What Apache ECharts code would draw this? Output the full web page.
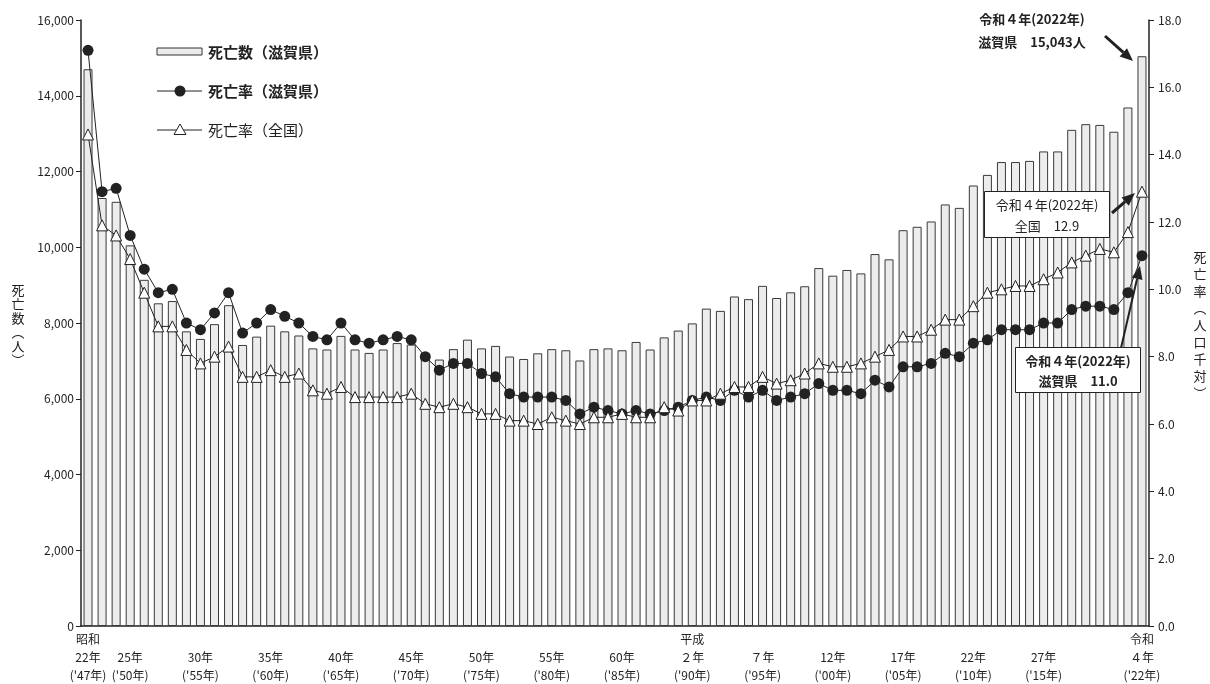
<!DOCTYPE html>
<html>
<head>
<meta charset="utf-8">
<script src="https://cdn.jsdelivr.net/npm/echarts@6/dist/echarts.min.js"></script>
<style>
  html, body { margin: 0; padding: 0; background: #fff; }
  #chart { width: 1210px; height: 684px; }
</style>
</head>
<body>
<div id="chart"></div>
<script>
// 年（昭和22年〜令和4年）
const years = [
  1947, 1948, 1949, 1950, 1951, 1952, 1953, 1954, 1955, 1956,
  1957, 1958, 1959, 1960, 1961, 1962, 1963, 1964, 1965, 1966,
  1967, 1968, 1969, 1970, 1971, 1972, 1973, 1974, 1975, 1976,
  1977, 1978, 1979, 1980, 1981, 1982, 1983, 1984, 1985, 1986,
  1987, 1988, 1989, 1990, 1991, 1992, 1993, 1994, 1995, 1996,
  1997, 1998, 1999, 2000, 2001, 2002, 2003, 2004, 2005, 2006,
  2007, 2008, 2009, 2010, 2011, 2012, 2013, 2014, 2015, 2016,
  2017, 2018, 2019, 2020, 2021, 2022
];
// 死亡数（滋賀県）
const deathsShiga = [
  14700, 11300, 11200, 10050, 9140, 8520, 8580, 7780, 7580, 7970,
  8470, 7420, 7640, 7930, 7780, 7670, 7330, 7300, 7660, 7300,
  7210, 7300, 7470, 7430, 7150, 7035, 7310, 7560, 7330, 7395,
  7115, 7050, 7200, 7310, 7280, 7010, 7310, 7330, 7280, 7500,
  7300, 7620, 7800, 7990, 8380, 8320, 8700, 8630, 8980, 8660,
  8810, 8970, 9450, 9250, 9400, 9310, 9820, 9680, 10450, 10540,
  10680, 11130, 11040, 11630, 11910, 12250, 12250, 12280, 12530, 12530,
  13100, 13250, 13230, 13050, 13690, 15043
];
// 死亡率（滋賀県）
const rateShiga = [
  17.1, 12.9, 13.0, 11.6, 10.6, 9.9, 10.0, 9.0, 8.8, 9.3,
  9.9, 8.7, 9.0, 9.4, 9.2, 9.0, 8.6, 8.5, 9.0, 8.5,
  8.4, 8.5, 8.6, 8.5, 8.0, 7.6, 7.8, 7.8, 7.5, 7.4,
  6.9, 6.8, 6.8, 6.8, 6.7, 6.3, 6.5, 6.4, 6.3, 6.4,
  6.3, 6.4, 6.5, 6.7, 6.8, 6.7, 7.0, 6.8, 7.0, 6.7,
  6.8, 6.9, 7.2, 7.0, 7.0, 6.9, 7.3, 7.1, 7.7, 7.7,
  7.8, 8.1, 8.0, 8.4, 8.5, 8.8, 8.8, 8.8, 9.0, 9.0,
  9.4, 9.5, 9.5, 9.4, 9.9, 11.0
];
// 死亡率（全国）
const rateJapan = [
  14.6, 11.9, 11.6, 10.9, 9.9, 8.9, 8.9, 8.2, 7.8, 8.0,
  8.3, 7.4, 7.4, 7.6, 7.4, 7.5, 7.0, 6.9, 7.1, 6.8,
  6.8, 6.8, 6.8, 6.9, 6.6, 6.5, 6.6, 6.5, 6.3, 6.3,
  6.1, 6.1, 6.0, 6.2, 6.1, 6.0, 6.2, 6.2, 6.3, 6.2,
  6.2, 6.5, 6.4, 6.7, 6.7, 6.9, 7.1, 7.1, 7.4, 7.2,
  7.3, 7.5, 7.8, 7.7, 7.7, 7.8, 8.0, 8.2, 8.6, 8.6,
  8.8, 9.1, 9.1, 9.5, 9.9, 10.0, 10.1, 10.1, 10.3, 10.5,
  10.8, 11.0, 11.2, 11.1, 11.7, 12.9
];
// 横軸の目盛ラベル
const labelYears = [1947, 1950, 1955, 1960, 1965, 1970, 1975, 1980, 1985, 1990, 1995, 2000, 2005, 2010, 2015, 2022];
const labelTexts = [
  "昭和\n22年\n('47年)", "\n25年\n('50年)", "\n30年\n('55年)", "\n35年\n('60年)",
  "\n40年\n('65年)", "\n45年\n('70年)", "\n50年\n('75年)", "\n55年\n('80年)",
  "\n60年\n('85年)", "平成\n２年\n('90年)", "\n７年\n('95年)", "\n12年\n('00年)",
  "\n17年\n('05年)", "\n22年\n('10年)", "\n27年\n('15年)", "令和\n４年\n('22年)"
];

const FONT = '"Noto Sans CJK JP", "Noto Sans CJK SC", sans-serif';
const INK = '#222';

// 矢印（線＋三角）
function arrow(x1, y1, x2, y2, w) {
  const dx = x2 - x1, dy = y2 - y1;
  const len = Math.sqrt(dx * dx + dy * dy);
  const ux = dx / len, uy = dy / len;
  const hl = 13, hw = 5.5;
  const bx = x2 - ux * hl, by = y2 - uy * hl;
  return [
    { type: 'line', z: 100, shape: { x1: x1, y1: y1, x2: bx, y2: by }, style: { stroke: INK, lineWidth: w } },
    { type: 'polygon', z: 100, shape: { points: [[x2, y2], [bx - uy * hw, by + ux * hw], [bx + uy * hw, by - ux * hw]] }, style: { fill: INK } }
  ];
}

function txt(x, y, text, size, weight, align) {
  return {
    type: 'text', z: 101, x: x, y: y,
    style: { text: text, fontFamily: FONT, fontSize: size, fontWeight: weight || 'normal', fill: INK, align: align || 'left', verticalAlign: 'middle' }
  };
}

const chart = echarts.init(document.getElementById('chart'));

const graphics = [
  // 凡例
  { type: 'rect', z: 100, shape: { x: 157, y: 48, width: 45, height: 7 }, style: { fill: '#ececec', stroke: '#333', lineWidth: 1 } },
  txt(208, 52, '死亡数（滋賀県）', 15, 'bold'),
  { type: 'line', z: 100, shape: { x1: 157, y1: 91, x2: 202, y2: 91 }, style: { stroke: INK, lineWidth: 1 } },
  { type: 'circle', z: 100, shape: { cx: 180, cy: 91, r: 5.5 }, style: { fill: INK } },
  txt(208, 91, '死亡率（滋賀県）', 15, 'bold'),
  { type: 'line', z: 100, shape: { x1: 157, y1: 130, x2: 202, y2: 130 }, style: { stroke: INK, lineWidth: 1 } },
  { type: 'polygon', z: 100, shape: { points: [[180, 124], [186, 134.5], [174, 134.5]] }, style: { fill: '#fff', stroke: INK, lineWidth: 1 } },
  txt(208, 130, '死亡率（全国）', 15, 'normal'),

  // 軸タイトル（縦書き）
  { type: 'text', z: 101, x: 18, y: 325, style: { text: '死\n亡\n数\n︵\n人\n︶', fontFamily: FONT, fontSize: 13, lineHeight: 14, fill: INK, align: 'center', verticalAlign: 'middle' } },
  { type: 'text', z: 101, x: 1200, y: 325, style: { text: '死\n亡\n率\n︵\n人\n口\n千\n対\n︶', fontFamily: FONT, fontSize: 13, lineHeight: 17, fill: INK, align: 'center', verticalAlign: 'middle' } },

  // 注記：死亡数
  txt(1032, 19, '令和４年(2022年)', 13, 'bold', 'center'),
  txt(1032, 42, '滋賀県　15,043人', 13, 'bold', 'center'),
  ...arrow(1105, 36, 1133, 61, 3),

  // 注記：全国
  { type: 'rect', z: 100, shape: { x: 984.5, y: 191.5, width: 125, height: 46 }, style: { fill: '#fff', stroke: INK, lineWidth: 1 } },
  txt(1047, 205, '令和４年(2022年)', 13, 'normal', 'center'),
  txt(1047, 226, '全国　12.9', 13, 'normal', 'center'),
  ...arrow(1112, 213, 1135, 193, 3),

  // 注記：滋賀県
  ...arrow(1121, 348, 1140, 266, 2),
  { type: 'rect', z: 100, shape: { x: 1015.5, y: 347.5, width: 125, height: 45 }, style: { fill: '#fff', stroke: INK, lineWidth: 1 } },
  txt(1078, 361, '令和４年(2022年)', 13, 'bold', 'center'),
  txt(1078, 381, '滋賀県　11.0', 13, 'bold', 'center')
];

const option = {
  animation: false,
  backgroundColor: '#fff',
  textStyle: { fontFamily: FONT, color: INK },
  grid: { left: 81, right: 61, top: 20, bottom: 56 },
  xAxis: {
    type: 'category',
    data: years,
    boundaryGap: true,
    axisLine: { lineStyle: { color: INK, width: 1.5 } },
    axisTick: { show: false },
    axisLabel: {
      interval: 0,
      margin: 4,
      fontFamily: FONT,
      fontSize: 12,
      lineHeight: 18,
      color: INK,
      formatter: function (value) {
        const i = labelYears.indexOf(Number(value));
        return i >= 0 ? labelTexts[i] : '';
      }
    }
  },
  yAxis: [
    {
      type: 'value',
      min: 0, max: 16000, interval: 2000,
      axisLine: { show: true, lineStyle: { color: INK, width: 1.5 } },
      axisTick: { show: true, length: 5, lineStyle: { color: INK } },
      splitLine: { show: false },
      axisLabel: {
        margin: 7, fontFamily: FONT, fontSize: 12, color: INK,
        formatter: function (v) { return v.toLocaleString('en-US'); }
      }
    },
    {
      type: 'value',
      min: 0, max: 18, interval: 2,
      position: 'right',
      axisLine: { show: true, lineStyle: { color: INK, width: 1.5 } },
      axisTick: { show: true, length: 5, lineStyle: { color: INK } },
      splitLine: { show: false },
      axisLabel: {
        margin: 9, fontFamily: FONT, fontSize: 12, color: INK,
        formatter: function (v) { return v.toFixed(1); }
      }
    }
  ],
  series: [
    {
      name: '死亡数（滋賀県）',
      type: 'bar',
      data: deathsShiga,
      yAxisIndex: 0,
      barWidth: 9,
      itemStyle: { color: '#ececec', borderColor: '#3a3a3a', borderWidth: 1 }
    },
    {
      name: '死亡率（滋賀県）',
      type: 'line',
      data: rateShiga,
      yAxisIndex: 1,
      symbol: 'circle',
      symbolSize: 11,
      lineStyle: { color: INK, width: 1 },
      itemStyle: { color: INK, borderColor: INK, borderWidth: 0 }
    },
    {
      name: '死亡率（全国）',
      type: 'line',
      data: rateJapan,
      yAxisIndex: 1,
      symbol: 'triangle',
      symbolSize: 11,
      lineStyle: { color: INK, width: 1 },
      itemStyle: { color: '#fff', borderColor: INK, borderWidth: 1 }
    }
  ],
  graphic: graphics
};

chart.setOption(option);
</script>
</body>
</html>
